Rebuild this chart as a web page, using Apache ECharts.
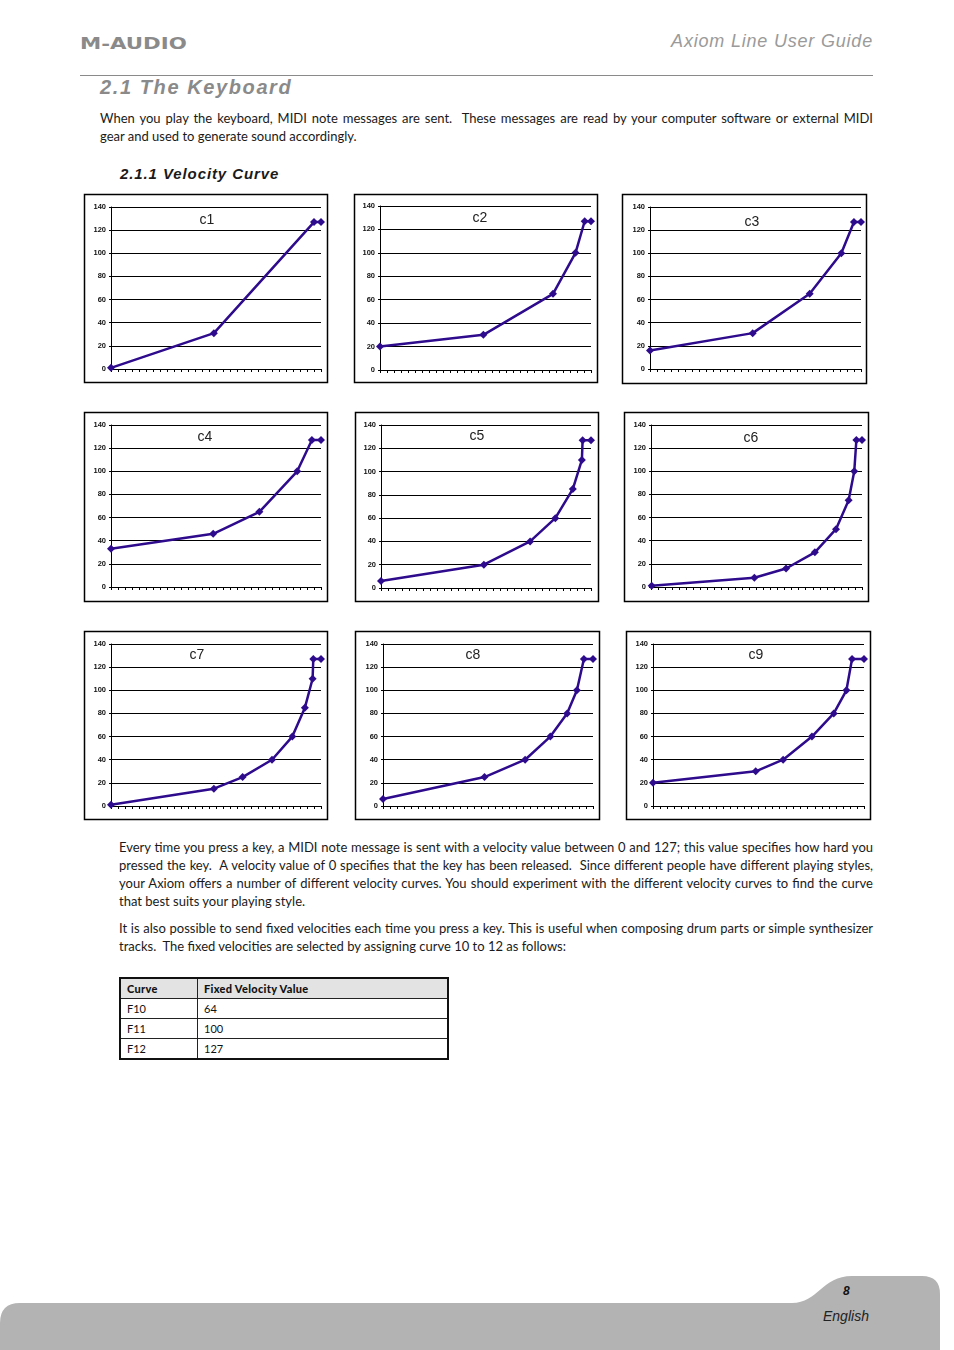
<!DOCTYPE html>
<html>
<head>
<meta charset="utf-8">
<script src="https://cdn.jsdelivr.net/npm/echarts@6/dist/echarts.min.js"></script>
<style>
  html, body { margin:0; padding:0; background:#fff; }
  #page { position:relative; width:954px; height:1350px; overflow:hidden; background:#fff; }
  .abs { position:absolute; white-space:nowrap; }
  .logo { left:80px; top:34px; font-family:"DejaVu Sans"; font-weight:bold; font-size:16px; color:#8a8a8a; transform:scaleX(1.33); transform-origin:left top; }
  .guide { right:81px; top:31px; font-family:"Liberation Sans"; font-style:italic; font-size:18px; color:#9a9a9a; letter-spacing:0.8px; }
  .rule { left:80px; top:75px; width:793px; height:1px; background:#8a8a8a; }
  .h1 { left:100px; top:76px; font-family:"Liberation Sans"; font-weight:bold; font-style:italic; font-size:20px; color:#8a8a8a; letter-spacing:1.6px; }
  .h2 { left:120px; top:165px; font-family:"Liberation Sans"; font-weight:bold; font-style:italic; font-size:15px; color:#1a1a1a; letter-spacing:0.9px; }
  .para { position:absolute; font-family:"Lato"; font-size:13px; color:#1a1a1a; line-height:18px; }
  .para div { white-space:nowrap; }
  .para .j { text-align:justify; text-align-last:justify; }
  #chart { position:absolute; left:0; top:0; width:954px; height:830px; }
  table.fv { position:absolute; left:119px; top:977px; width:330px; border-collapse:collapse; border:2px solid #111; font-family:"Lato"; font-size:11px; color:#111; }
  table.fv td { border-top:1px solid #222; height:19px; padding:0 0 0 6px; line-height:19px; }
  table.fv td.c1 { width:70px; border-right:1px solid #222; }
  table.fv tr.hd td { background:#e3e3e3; font-weight:900; height:19px; letter-spacing:0.3px; }
  .pg { left:843px; top:1284px; font-family:"Liberation Sans"; font-weight:bold; font-style:italic; font-size:12px; color:#111; }
  .en { left:823px; top:1308px; font-family:"Liberation Sans"; font-style:italic; font-size:14px; color:#222; }
</style>
</head>
<body>
<div id="page">
  <svg class="abs" style="left:0;top:0" width="954" height="1350">
    <path d="M0,1350 L0,1323 Q0,1303 20,1303 L792,1303 C818,1303 822,1276 852,1276 L922,1276 Q940,1276 940,1294 L940,1350 Z" fill="#b3b3b3"/>
  </svg>
  <div class="abs logo">M-AUDIO</div>
  <div class="abs guide">Axiom Line User Guide</div>
  <div class="abs rule"></div>
  <div class="abs h1">2.1 The Keyboard</div>
  <div class="para" style="left:100px; top:109px; width:773px;">
    <div class="j">When you play the keyboard, MIDI note messages are sent.&nbsp; These messages are read by your computer software or external MIDI</div>
    <div>gear and used to generate sound accordingly.</div>
  </div>
  <div class="abs h2">2.1.1 Velocity Curve</div>
  <div id="chart"></div>
  <div class="para" style="left:119px; top:838px; width:754px;">
    <div class="j">Every time you press a key, a MIDI note message is sent with a velocity value between 0 and 127; this value specifies how hard you</div>
    <div class="j">pressed the key.&nbsp; A velocity value of 0 specifies that the key has been released.&nbsp; Since different people have different playing styles,</div>
    <div class="j">your Axiom offers a number of different velocity curves. You should experiment with the different velocity curves to find the curve</div>
    <div>that best suits your playing style.</div>
  </div>
  <div class="para" style="left:119px; top:919px; width:754px;">
    <div class="j">It is also possible to send fixed velocities each time you press a key. This is useful when composing drum parts or simple synthesizer</div>
    <div>tracks.&nbsp; The fixed velocities are selected by assigning curve 10 to 12 as follows:</div>
  </div>
  <table class="fv" id="fvtable"></table>
  <div class="abs pg">8</div>
  <div class="abs en">English</div>
</div>
<script>
// ---- data ----
const curveNames = ['c1','c2','c3','c4','c5','c6','c7','c8','c9'];
const c1X = [0, 14.7, 29, 30];
const c1Y = [1, 31, 127, 127];
const c2X = [0, 14.7, 24.6, 27.8, 29.1, 30];
const c2Y = [20, 30, 65, 100, 127, 127];
const c3X = [0, 14.6, 22.7, 27.2, 29.0, 30];
const c3Y = [16, 31, 65, 100, 127, 127];
const c4X = [0, 14.6, 21.2, 26.6, 28.7, 30];
const c4Y = [33, 46, 65, 100, 127, 127];
const c5X = [0, 14.7, 21.3, 24.9, 27.4, 28.7, 28.8, 30];
const c5Y = [6, 20, 40, 60, 85, 110, 127, 127];
const c6X = [0.1, 14.7, 19.2, 23.3, 26.3, 28.1, 28.9, 29.2, 30];
const c6Y = [1, 8, 16, 30, 50, 75, 100, 127, 127];
const c7X = [0, 14.7, 18.8, 23.0, 25.9, 27.7, 28.8, 28.9, 30];
const c7Y = [1, 15, 25, 40, 60, 85, 110, 127, 127];
const c8X = [0, 14.5, 20.3, 23.9, 26.3, 27.7, 28.7, 30];
const c8Y = [6, 25, 40, 60, 80, 100, 127, 127];
const c9X = [0, 14.6, 18.5, 22.6, 25.7, 27.5, 28.3, 30];
const c9Y = [20, 30, 40, 60, 80, 100, 127, 127];
const yTicks = [0, 20, 40, 60, 80, 100, 120, 140];
const tableHeader = ['Curve', 'Fixed Velocity Value'];
const tableCurves = ['F10', 'F11', 'F12'];
const tableValues = [64, 100, 127];

const xsAll = [c1X,c2X,c3X,c4X,c5X,c6X,c7X,c8X,c9X];
const ysAll = [c1Y,c2Y,c3Y,c4Y,c5Y,c6Y,c7Y,c8Y,c9Y];

// ---- layout (page px) ----
const boxes = [
  [84,194,243,188],[354,194,243,188],[622,194,244,189],
  [84,412,243,189],[355,412,243,189],[624,412,244,189],
  [84,631,243,188],[355,631,244,188],[626,631,244,188]
];
const plots = [
  [111,207,210,162],[380,206,211,164],[650,207,211,162],
  [111,425,210,162],[381,425,210,163],[651,425,211,162],
  [111,644,210,162],[383,644,210,162],[653,644,211,162]
];
const titlePos = [[207,220],[480,218],[752,222],[205,437],[477,436],[751,438],[197,655],[473,655],[756,655]];

// table
const tb = document.getElementById('fvtable');
let html = '<tr class="hd"><td class="c1">'+tableHeader[0]+'</td><td>'+tableHeader[1]+'</td></tr>';
tableCurves.forEach((c,i)=>{ html += '<tr><td class="c1">'+c+'</td><td>'+tableValues[i]+'</td></tr>'; });
tb.innerHTML = html;

const chart = echarts.init(document.getElementById('chart'), null, {renderer:'canvas'});
const grids=[], xAxes=[], yAxes=[], series=[], graphics=[];
const lineColor = '#2e0b8c';
curveNames.forEach((name,i)=>{
  const p = plots[i];
  grids.push({left:p[0], top:p[1], width:p[2], height:p[3]});
  xAxes.push({type:'value', gridIndex:i, min:0, max:30, interval:1,
    axisLine:{show:true, onZero:false, lineStyle:{color:'#000', width:1}},
    axisTick:{show:true, length:3, lineStyle:{color:'#000', width:1}},
    axisLabel:{show:false}, splitLine:{show:false}});
  yAxes.push({type:'value', gridIndex:i, min:yTicks[0], max:yTicks[yTicks.length-1], interval:20,
    axisLine:{show:true, lineStyle:{color:'#000', width:1}},
    axisTick:{show:true, length:2, lineStyle:{color:'#000'}},
    axisLabel:{show:true, fontSize:7.5, fontWeight:'bold', fontFamily:'Liberation Sans', color:'#111', margin:5},
    splitLine:{show:true, lineStyle:{color:'#000', width:1}}});
  const data = xsAll[i].map((x,k)=>[x, ysAll[i][k]]);
  series.push({type:'line', name:name, xAxisIndex:i, yAxisIndex:i, data:data,
    symbol:'diamond', symbolSize:8, showAllSymbol:true, animation:false,
    itemStyle:{color:lineColor}, lineStyle:{color:lineColor, width:2.5}});
  const b = boxes[i];
  graphics.push({type:'rect', shape:{x:b[0]+0.5, y:b[1]+0.5, width:b[2], height:b[3]},
    style:{fill:'none', stroke:'#000', lineWidth:1.5}, silent:true});
  graphics.push({type:'text', x:titlePos[i][0], y:titlePos[i][1],
    style:{text:name, fontSize:14, fontFamily:'Liberation Sans', fill:'#222', align:'center', verticalAlign:'middle'}});
});
chart.setOption({animation:false, grid:grids, xAxis:xAxes, yAxis:yAxes, series:series, graphic:graphics});
</script>
</body>
</html>
